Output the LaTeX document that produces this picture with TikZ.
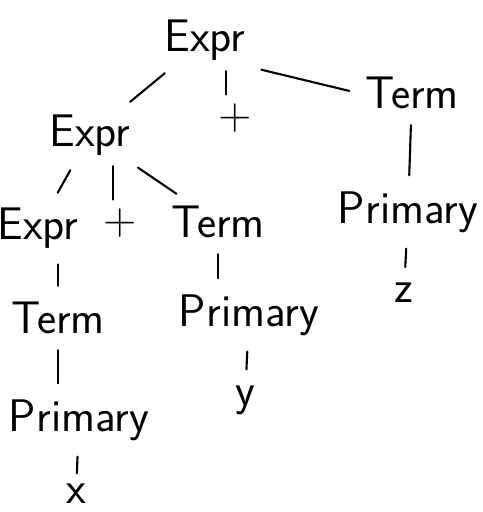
\documentclass[tikz,border=0pt]{standalone}
\usepackage{amsmath}
\usepackage{tikz}
\usetikzlibrary{positioning}

\begin{document}
\begin{tikzpicture}[x=0.02cm,y=-0.02cm,
	sym/.style={font=\sffamily\fontsize{26}{28}\selectfont,inner sep=4pt},
	branch/.style={line width=1.2pt,line cap=round,shorten >=5pt,shorten <=5pt}]
	\useasboundingbox (0,0) rectangle (483,512);
	
	\node[sym] (e0) at (205,40) {Expr};
	\node[sym] (e1) at (90,135) {Expr};
	\node[sym] (p1) at (235,118) {+};
	\node[sym] (t1) at (412,93) {Term};
	
	\node[sym] (e2) at (38,228) {Expr};
	\node[sym] (p2) at (120,223) {+};
	\node[sym] (t2) at (218,222) {Term};
	\node[sym] (r1) at (408,212) {Primary};
	\node[sym] (z) at (404,293) {z};
	
	\node[sym] (t3) at (58,318) {Term};
	\node[sym] (r2) at (249,315) {Primary};
	\node[sym] (y) at (245,400) {y};
	\node[sym] (r3) at (79,420) {Primary};
	\node[sym,inner sep=1pt] (x) at (76,494) {x};
	
	\draw[branch,shorten <=2pt,shorten >=1pt] ([xshift=-5pt]p1.north |- e0.south) -- ([xshift=-5pt]p1.north);
	\draw[branch] (e0) -- (e1);
	\draw[branch] (e0.south east) -- (t1.west);
	\draw[branch] (e1) -- (e2);
	\draw[branch,shorten <=2pt,shorten >=1pt] ([xshift=-4pt]p2.north |- e1.south) -- ([xshift=-4pt]p2.north);
	\draw[branch] (e1) -- (t2);
	\draw[branch] (t1) -- (r1);
	\draw[branch] (r1) -- (z);
	\draw[branch] (t3.north |- e2.south) -- (t3.north);
	\draw[branch] (t2.south) -- (t2.south |- r2.north);
	\draw[branch] (t3.south) -- (t3.south |- r3.north);
	\draw[branch] (r2) -- (y);
	\draw[branch] (r3) -- (x);
	
\end{tikzpicture}
\end{document}
